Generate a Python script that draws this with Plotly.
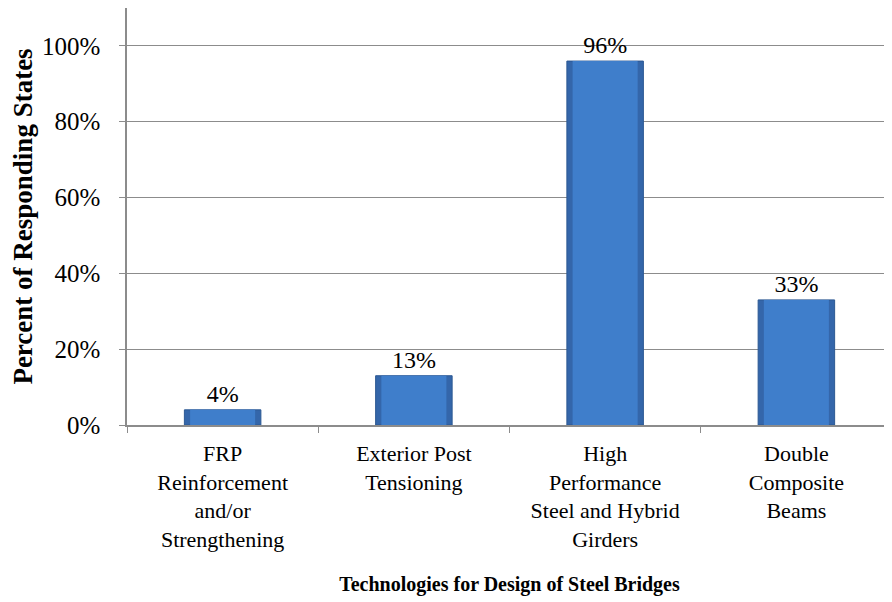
import plotly.graph_objects as go

categories = [
    "FRP<br>Reinforcement<br>and/or<br>Strengthening",
    "Exterior Post<br>Tensioning",
    "High<br>Performance<br>Steel and Hybrid<br>Girders",
    "Double<br>Composite<br>Beams",
]
values = [0.04, 0.13, 0.96, 0.33]
value_labels = ["4%", "13%", "96%", "33%"]
y_ticks = [0, 0.2, 0.4, 0.6, 0.8, 1.0]
y_tick_labels = ["0%", "20%", "40%", "60%", "80%", "100%"]

font_family = "Liberation Serif, Times New Roman, serif"

fig = go.Figure()
# outer (darker edge) bar
fig.add_trace(go.Bar(
    x=categories,
    y=values,
    width=0.4,
    marker=dict(color="#3466aa", line=dict(color="#2c5893", width=1)),
    hoverinfo="skip",
))
# inner (lighter face) bar with value labels
fig.add_trace(go.Bar(
    x=categories,
    y=values,
    width=0.34,
    text=value_labels,
    textposition="outside",
    textfont=dict(family=font_family, size=24, color="black"),
    cliponaxis=False,
    marker=dict(color="#3f7ecb", line=dict(width=0)),
))

fig.update_layout(
    width=884,
    height=594,
    margin=dict(l=119, r=0, t=0, b=177, autoexpand=False),
    plot_bgcolor="white",
    paper_bgcolor="white",
    showlegend=False,
    barmode="overlay",
    font=dict(family=font_family, size=20, color="black"),
)
fig.update_xaxes(
    showline=True,
    linecolor="#8c8c8c",
    linewidth=1.5,
    ticks="outside",
    tickson="boundaries",
    ticklen=6,
    tickcolor="#8c8c8c",
    ticklabelstandoff=8,
    tickfont=dict(family=font_family, size=22, color="black"),
    title=dict(text="<b>Technologies for Design of Steel Bridges</b>",
               font=dict(family=font_family, size=20, color="black"), standoff=26),
    showgrid=False,
)
fig.update_yaxes(
    range=[0, 1.1],
    tickvals=y_ticks,
    ticktext=y_tick_labels,
    showline=True,
    linecolor="#8c8c8c",
    linewidth=1.5,
    ticks="outside",
    ticklen=6,
    tickcolor="#8c8c8c",
    ticklabelstandoff=14,
    showgrid=True,
    gridcolor="#8c8c8c",
    gridwidth=1.2,
    zeroline=False,
    tickfont=dict(family=font_family, size=25, color="black"),
    title=dict(text="<b>Percent of Responding States</b>",
               font=dict(family=font_family, size=27, color="black"), standoff=8),
)

fig.write_html("out.html")
